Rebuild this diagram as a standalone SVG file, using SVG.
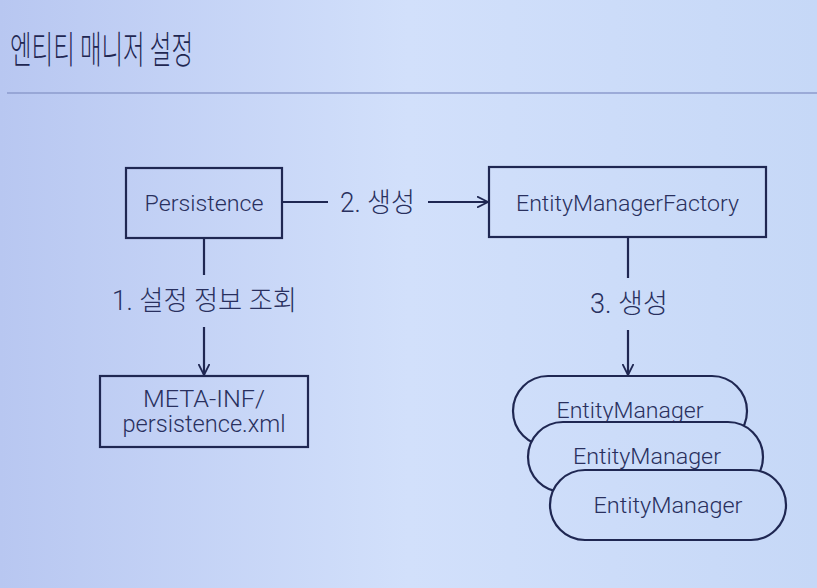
<svg xmlns="http://www.w3.org/2000/svg" width="817" height="588" viewBox="0 0 817 588">
<defs>
<linearGradient id="bg" gradientUnits="userSpaceOnUse" x1="0" y1="0" x2="817" y2="0">
<stop offset="0" stop-color="#b8c7f1"/>
<stop offset="0.5" stop-color="#d2e0fb"/>
<stop offset="1" stop-color="#c6d8f7"/>
</linearGradient>
<marker id="arr" viewBox="0 0 12 12" refX="11" refY="6" markerWidth="12" markerHeight="12" markerUnits="userSpaceOnUse" orient="auto">
<path d="M0,0.5 L11,6 L0,11.5" fill="none" stroke="#1f2752" stroke-width="1.8"/>
</marker>
</defs>
<style>
.box{fill:none;stroke:#1f2752;stroke-width:2.2}
.pill{fill:url(#bg);stroke:#1f2752;stroke-width:2.2}
.ln{fill:none;stroke:#1f2752;stroke-width:2.2}
.t{font-family:Roboto,"Liberation Sans","Noto Sans CJK KR",sans-serif;font-weight:300;fill:#29305e;text-anchor:middle}
.lab{font-family:Roboto,"Noto Sans CJK KR",sans-serif;font-weight:300;fill:#29305e;font-size:27px}
</style>
<rect x="0" y="0" width="817" height="588" fill="url(#bg)"/>
<text x="10" y="63" font-family="'Noto Sans CJK KR',sans-serif" font-weight="300" font-size="38" fill="#1f2752" textLength="183" lengthAdjust="spacingAndGlyphs">엔티티 매니저 설정</text>
<line x1="7" y1="93" x2="817" y2="93" stroke="#8c9bcc" stroke-width="1.5"/>

<g id="connectors">
<line class="ln" x1="282" y1="202" x2="328" y2="202"/>
<line class="ln" x1="428" y1="202" x2="488" y2="202" marker-end="url(#arr)"/>
<line class="ln" x1="204" y1="238" x2="204" y2="275"/>
<line class="ln" x1="204" y1="327" x2="204" y2="375" marker-end="url(#arr)"/>
<line class="ln" x1="628" y1="238" x2="628" y2="278"/>
<line class="ln" x1="628" y1="330" x2="628" y2="375" marker-end="url(#arr)"/>
<text class="lab" x="340" y="212" textLength="75" lengthAdjust="spacingAndGlyphs">2. 생성</text>
<text class="lab" x="112" y="310" textLength="185" lengthAdjust="spacingAndGlyphs">1. 설정 정보 조회</text>
<text class="lab" x="590" y="313" textLength="78" lengthAdjust="spacingAndGlyphs">3. 생성</text>
</g>

<g id="persistence">
<rect class="box" x="126" y="168" width="156" height="70"/>
<text class="t" x="204" y="211" font-size="22" textLength="119" lengthAdjust="spacingAndGlyphs">Persistence</text>
</g>

<g id="emf">
<rect class="box" x="489" y="167" width="277" height="70"/>
<text class="t" x="627.5" y="211" font-size="22" textLength="223" lengthAdjust="spacingAndGlyphs">EntityManagerFactory</text>
</g>

<g id="meta">
<rect class="box" x="100" y="376" width="208" height="71"/>
<text class="t" x="204" y="407" font-size="23" textLength="122" lengthAdjust="spacingAndGlyphs">META-INF/</text>
<text class="t" x="204" y="432" font-size="23" textLength="163" lengthAdjust="spacingAndGlyphs">persistence.xml</text>
</g>

<g id="em1">
<rect class="pill" x="513" y="376" width="234" height="70" rx="35" ry="35"/>
<text class="t" x="630" y="418" font-size="22" textLength="147" lengthAdjust="spacingAndGlyphs">EntityManager</text>
</g>
<g id="em2">
<rect class="pill" x="528" y="422" width="235" height="70" rx="35" ry="35"/>
<text class="t" x="647" y="464" font-size="22" textLength="148" lengthAdjust="spacingAndGlyphs">EntityManager</text>
</g>
<g id="em3">
<rect class="pill" x="550" y="470" width="236" height="70" rx="35" ry="35"/>
<text class="t" x="668" y="513" font-size="22" textLength="149" lengthAdjust="spacingAndGlyphs">EntityManager</text>
</g>
</svg>
